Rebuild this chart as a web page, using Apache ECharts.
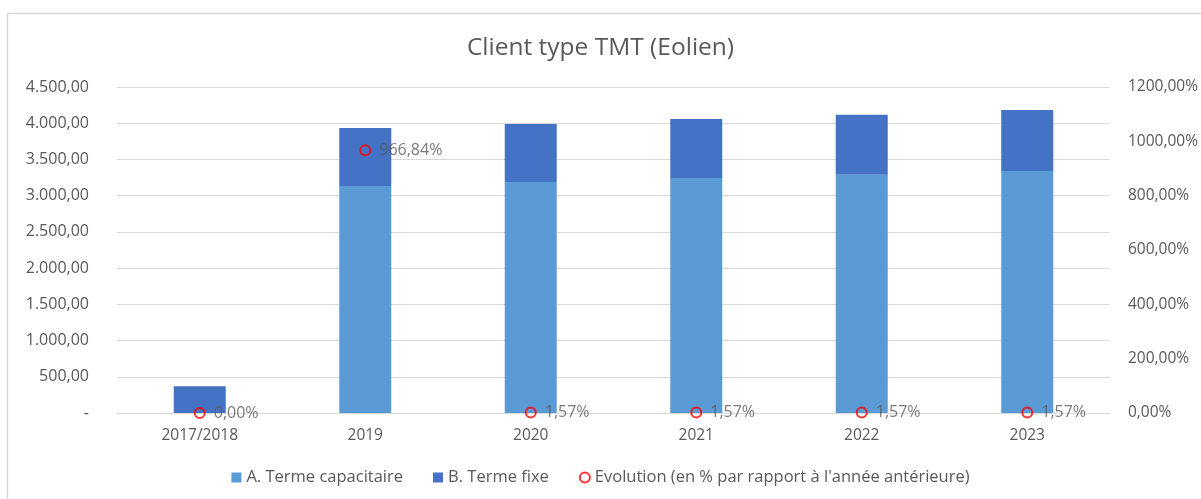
<!DOCTYPE html>
<html>
  <head>
    <meta charset="utf-8">
    <title>Client type TMT (Eolien)</title>
    <script src="https://cdn.jsdelivr.net/npm/echarts@6/dist/echarts.min.js"></script>
    <style>
    html, body { margin: 0; padding: 0; background: #fff; }
    #chart { width: 1201px; height: 499px; }
    </style>
  </head>
  <body>
    <div id="chart"></div>
    <script type="text/javascript">
      var categories = ['2017/2018', '2019', '2020', '2021', '2022', '2023'];
      var termeCapacitaire = [0, 3134, 3189, 3243, 3290, 3340];
      var termeFixe = [369, 800, 801, 814, 827, 841];
      var evolution = [0, 966.84, 1.57, 1.57, 1.57, 1.57];
      var leftTicks = [0, 500, 1000, 1500, 2000, 2500, 3000, 3500, 4000, 4500];
      var rightTicks = [0, 200, 400, 600, 800, 1000, 1200];

      var font = 'Open Sans';
      var grey = '#595959';

      // formats 4500 -> "4.500,00"
      function fmtLeft(v) {
        if (v === 0) return '-';
        var s = v.toFixed(2).split('.');
        var ent = s[0].replace(/\B(?=(\d{3})+(?!\d))/g, '.');
        return ent + ',' + s[1];
      }
      function fmtPct(v) {
        return v.toFixed(2).replace('.', ',') + '%';
      }

      var chart = echarts.init(document.getElementById('chart'));
      var option = {
        backgroundColor: '#fff',
        animation: false,
        textStyle: { fontFamily: font },
        graphic: [{
          type: 'rect',
          shape: { x: 7.5, y: 13.5, width: 1200, height: 500 },
          style: { fill: 'none', stroke: '#d9d9d9', lineWidth: 1.5 },
          silent: true
        }],
        title: {
          text: 'Client type TMT (Eolien)',
          left: 'center',
          top: 31,
          textStyle: { fontFamily: font, fontSize: 24.5, fontWeight: 'normal', color: grey }
        },
        legend: {
          bottom: 8,
          left: 'center',
          itemGap: 30,
          itemWidth: 10,
          itemHeight: 10,
          textStyle: { fontFamily: font, fontSize: 16.5, color: grey },
          data: [
            { name: 'A. Terme capacitaire', icon: 'rect' },
            { name: 'B. Terme fixe', icon: 'rect' },
            {
              name: "Evolution (en % par rapport à l'année antérieure)",
              icon: 'circle',
              itemStyle: { color: '#fff', borderColor: '#ff0000', borderWidth: 2 }
            }
          ]
        },
        grid: { left: 117, right: 91, top: 87, bottom: 86 },
        xAxis: {
          type: 'category',
          data: categories,
          axisTick: { show: false },
          axisLine: { lineStyle: { color: '#d9d9d9' } },
          axisLabel: { color: grey, fontSize: 15.5, margin: 15 }
        },
        yAxis: [{
          type: 'value',
          min: leftTicks[0],
          max: leftTicks[leftTicks.length - 1],
          interval: 500,
          axisLine: { show: false },
          axisTick: { show: false },
          splitLine: { lineStyle: { color: '#d9d9d9' } },
          axisLabel: { color: grey, fontSize: 16, margin: 28, formatter: fmtLeft }
        }, {
          type: 'value',
          min: rightTicks[0],
          max: rightTicks[rightTicks.length - 1],
          interval: 200,
          axisLine: { show: false },
          axisTick: { show: false },
          splitLine: { show: false },
          axisLabel: { color: grey, fontSize: 15.5, margin: 18, formatter: fmtPct }
        }],
        series: [{
          name: 'A. Terme capacitaire',
          type: 'bar',
          stack: 'total',
          barWidth: 52,
          itemStyle: { color: '#5b9bd5' },
          data: termeCapacitaire
        }, {
          name: 'B. Terme fixe',
          type: 'bar',
          stack: 'total',
          barWidth: 52,
          itemStyle: { color: '#4472c4' },
          data: termeFixe
        }, {
          name: "Evolution (en % par rapport à l'année antérieure)",
          type: 'scatter',
          yAxisIndex: 1,
          symbol: 'circle',
          symbolSize: 10,
          z: 5,
          itemStyle: { color: 'rgba(255,255,255,0)', borderColor: '#ff0000', borderWidth: 2 },
          label: {
            show: true,
            position: 'right',
            distance: 8,
            color: grey,
            fontSize: 16,
            formatter: function (p) { return fmtPct(p.value); }
          },
          data: evolution
        }]
      };
      chart.setOption(option);
    </script>
  </body>
</html>
